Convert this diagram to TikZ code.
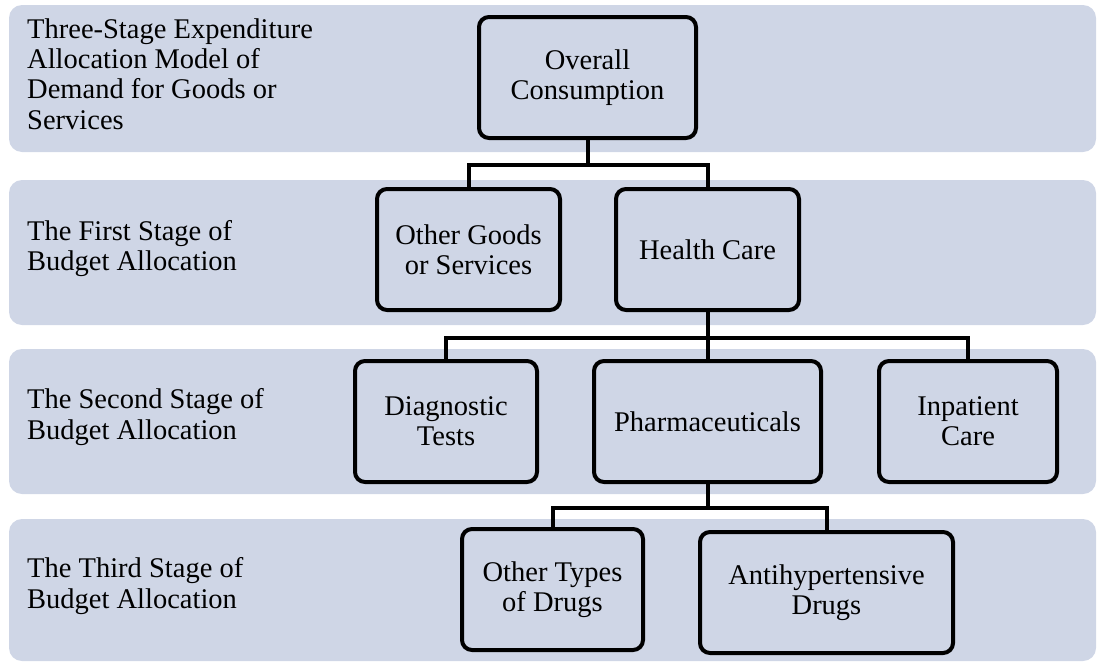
\documentclass[tikz,border=0pt]{standalone}
\usepackage{fontspec}
\setmainfont{Liberation Serif}
\definecolor{bandblue}{RGB}{207,214,230}
\tikzstyle{band}=[fill=bandblue,rounded corners=13pt]
\tikzstyle{stage}=[anchor=west,align=left,inner sep=0pt]
\tikzstyle{item}=[draw=black,line width=4pt,rounded corners=10pt,fill=bandblue,align=center,inner sep=0pt,minimum height=121pt]
\tikzstyle{link}=[draw=black,line width=4pt]

\begin{document}
\begin{tikzpicture}[x=1pt,y=-1pt,font=\fontsize{28.5}{30.3}\selectfont]
	\useasboundingbox (0,0) rectangle (1097,664);

	\fill [band] (9,5) rectangle (1096,152);
	\fill [band] (9,180) rectangle (1096,325);
	\fill [band] (9,349) rectangle (1096,494);
	\fill [band] (9,519) rectangle (1096,661);

	\node [stage] (model) at (27,74) {Three-Stage Expenditure\\Allocation Model of\\Demand for Goods or\\Services};
	\node [stage] (first) at (27,248.5) {The First Stage of\\Budget Allocation};
	\node [stage] (second) at (27,417) {The Second Stage of\\Budget Allocation};
	\node [stage] (third) at (27,586) {The Third Stage of\\Budget Allocation};

	\node [item,minimum width=217pt] (overall) at (587.5,77.5) {Overall\\Consumption};
	\node [item,minimum width=183pt] (others) at (468.5,249.5) {Other Goods\\or Services};
	\node [item,minimum width=183pt] (health) at (707.5,249.5) {Health Care};
	\node [item,minimum width=182pt] (diag) at (446,421.5) {Diagnostic\\Tests};
	\node [item,minimum width=227pt] (pharma) at (707.5,421.5) {Pharmaceuticals};
	\node [item,minimum width=178pt] (inpat) at (968,421.5) {Inpatient\\Care};
	\node [item,minimum width=181pt] (otherdrugs) at (552.5,589.5) {Other Types\\of Drugs};
	\node [item,minimum width=253pt] (antihyp) at (826.5,592.5) {Antihypertensive\\Drugs};

	\draw [link] (overall.south) -- ++(0,25) -| (others.north);
	\draw [link] (overall.south) -- ++(0,25) -| (health.north);
	\draw [link] (health.south) -- ++(0,26) -| (diag.north);
	\draw [link] (health.south) -- (pharma.north);
	\draw [link] (health.south) -- ++(0,26) -| (inpat.north);
	\draw [link] (pharma.south) -- ++(0,24) -| (otherdrugs.north);
	\draw [link] (pharma.south) -- ++(0,24) -| (antihyp.north);
\end{tikzpicture}
\end{document}
